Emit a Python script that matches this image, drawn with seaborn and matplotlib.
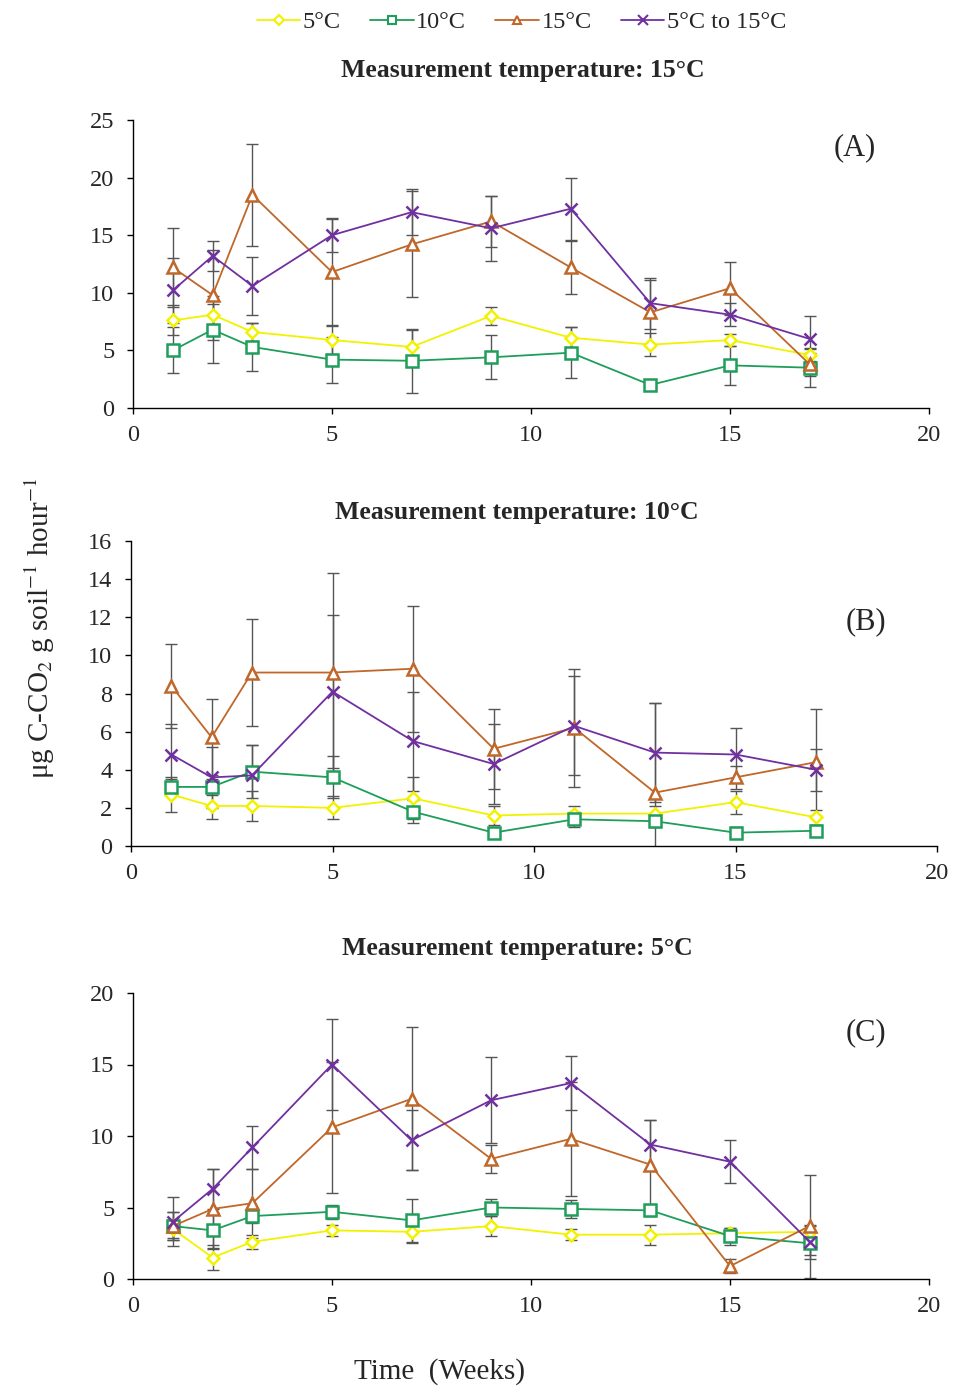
import numpy as np
import pandas as pd
import matplotlib
matplotlib.use("Agg")
import matplotlib.pyplot as plt
import seaborn as sns
from matplotlib.lines import Line2D

weeks = [1, 2, 3, 5, 7, 9, 11, 13, 15, 17]
series = ["5°C", "10°C", "15°C", "5°C to 15°C"]

# Panel A: measurement temperature 15°C
a_5 = [7.6, 8.1, 6.6, 5.9, 5.3, 8.0, 6.1, 5.5, 5.9, 4.6]
a_10 = [5.0, 6.8, 5.3, 4.2, 4.1, 4.4, 4.8, 2.0, 3.7, 3.5]
a_15 = [12.2, 9.8, 18.5, 11.8, 14.2, 16.2, 12.2, 8.3, 10.4, 3.8]
a_mix = [10.2, 13.2, 10.6, 15.0, 17.0, 15.6, 17.3, 9.1, 8.1, 6.0]
a_5_err = [1.3, 0.9, 0.8, 1.2, 1.5, 0.8, 0.9, 1.0, 0.5, 0.5]
a_10_err = [2.0, 2.9, 2.1, 2.0, 2.8, 1.9, 2.2, 0.4, 1.7, 1.7]
a_15_err = [3.4, 3.9, 4.4, 4.6, 4.6, 2.2, 2.3, 2.8, 2.3, 1.0]
a_mix_err = [2.8, 1.3, 2.5, 1.5, 2.0, 2.8, 2.7, 2.2, 1.0, 2.0]

# Panel B: measurement temperature 10°C
b_5 = [2.7, 2.1, 2.1, 2.0, 2.5, 1.6, 1.7, 1.7, 2.3, 1.5]
b_10 = [3.1, 3.1, 3.9, 3.6, 1.8, 0.7, 1.4, 1.3, 0.7, 0.8]
b_15 = [8.4, 5.7, 9.1, 9.1, 9.3, 5.1, 6.2, 2.8, 3.6, 4.4]
b_mix = [4.8, 3.6, 3.7, 8.1, 5.5, 4.3, 6.3, 4.9, 4.8, 4.0]
b_5_err = [0.9, 0.7, 0.8, 0.6, 1.1, 0.5, 0.4, 0.4, 0.6, 0.4]
b_10_err = [0.4, 0.4, 1.4, 1.1, 0.6, 0.3, 0.4, 0.3, 0.3, 0.3]
b_15_err = [2.2, 2.0, 2.8, 5.2, 3.3, 2.1, 3.1, 4.7, 0.6, 2.8]
b_mix_err = [1.6, 1.6, 1.6, 4.0, 2.6, 2.1, 2.6, 2.6, 1.4, 1.1]

# Panel C: measurement temperature 5°C
c_5 = [3.5, 1.5, 2.6, 3.4, 3.3, 3.7, 3.1, 3.1, 3.2, 3.3]
c_10 = [3.7, 3.4, 4.4, 4.7, 4.1, 5.0, 4.9, 4.8, 3.0, 2.5]
c_15 = [3.7, 4.9, 5.3, 10.6, 12.6, 8.4, 9.8, 8.0, 0.9, 3.7]
c_mix = [4.0, 6.3, 9.2, 15.0, 9.7, 12.5, 13.7, 9.4, 8.2, 2.6]
c_5_err = [0.6, 0.9, 0.5, 0.4, 0.8, 0.7, 0.4, 0.7, 0.4, 0.4]
c_10_err = [1.0, 1.2, 0.5, 0.5, 1.5, 0.6, 0.6, 0.4, 0.6, 0.8]
c_15_err = [1.0, 2.8, 2.4, 4.6, 5.0, 1.0, 4.0, 3.1, 0.5, 3.6]
c_mix_err = [1.7, 1.4, 1.5, 3.2, 2.1, 3.0, 1.9, 1.7, 1.5, 1.2]

panels = [
    ("Measurement temperature: 15°C", "(A)", [a_5, a_10, a_15, a_mix],
     [a_5_err, a_10_err, a_15_err, a_mix_err], 25, 5),
    ("Measurement temperature: 10°C", "(B)", [b_5, b_10, b_15, b_mix],
     [b_5_err, b_10_err, b_15_err, b_mix_err], 16, 2),
    ("Measurement temperature: 5°C", "(C)", [c_5, c_10, c_15, c_mix],
     [c_5_err, c_10_err, c_15_err, c_mix_err], 20, 5),
]

colors = ["#F2F200", "#1E9E5A", "#C0672A", "#7030A0"]
markers = ["D", "s", "^", "x"]
msizes = [6, 8, 8, 9]

sns.set_style("white")
plt.rcParams["font.family"] = ["Liberation Serif", "DejaVu Serif"]
plt.rcParams["mathtext.fontset"] = "stix"

fig = plt.figure(figsize=(9.55, 13.94), dpi=100)
W, H = 955, 1394
rects = [
    [133 / W, 1 - 408 / H, 796 / W, 288 / H],
    [131 / W, 1 - 846 / H, 806 / W, 305 / H],
    [133 / W, 1 - 1279 / H, 796 / W, 286 / H],
]
title_pos = [(523, 70), (517, 513), (517, 949)]
tag_pos = [(855, 148), (866, 622), (866, 1033)]

for rect, tpos, gpos, (title, tag, vals, errs, ymax, ystep) in zip(
        rects, title_pos, tag_pos, panels):
    ax = fig.add_axes(rect)
    for name, v, e, c, m, ms in zip(series, vals, errs, colors, markers, msizes):
        ax.errorbar(weeks, v, yerr=e, fmt="none", ecolor="#555555",
                    elinewidth=1.0, capsize=4, capthick=1.0, zorder=2)
        df = pd.DataFrame({"week": weeks, "value": v})
        mfc = c if m == "x" else "white"
        sns.lineplot(data=df, x="week", y="value", ax=ax, color=c,
                     marker=m, markersize=ms, markerfacecolor=mfc,
                     markeredgecolor=c, markeredgewidth=1.8,
                     linewidth=1.3, zorder=3, label=name, legend=False)
    ax.set_xlim(0, 20)
    ax.set_ylim(0, ymax)
    ax.set_xticks([0, 5, 10, 15, 20])
    ax.set_yticks(np.arange(0, ymax + 0.1, ystep))
    ax.set_xlabel("")
    ax.set_ylabel("")
    for s in ["top", "right"]:
        ax.spines[s].set_visible(False)
    for s in ["left", "bottom"]:
        ax.spines[s].set_color("#000000")
        ax.spines[s].set_linewidth(1.0)
    ax.tick_params(axis="both", which="both", direction="out", length=4.5,
                   width=1, color="#000000", labelsize=17.5, left=True, bottom=True)
    ax.tick_params(axis="x", pad=8)
    ax.tick_params(axis="y", pad=9)
    fig.text(tpos[0] / W, 1 - tpos[1] / H, title, fontsize=18.5,
             fontweight="bold", ha="center", va="center")
    fig.text(gpos[0] / W, 1 - gpos[1] / H, tag, fontsize=22,
             ha="center", va="center")

fig.text(0.042, 1 - 628 / H, "μg C-CO$_2$ g soil$^{-1}$ hour$^{-1}$",
         rotation=90, fontsize=21, ha="center", va="center")
fig.text(0.46, 1 - 1372 / H, "Time  (Weeks)", fontsize=21, ha="center", va="center")

handles = [Line2D([0], [0], color=c, marker=m, markersize=ms * 0.8,
                  markerfacecolor=(c if m == "x" else "white"),
                  markeredgecolor=c, markeredgewidth=1.5, linewidth=1.3)
           for c, m, ms in zip(colors, markers, msizes)]
fig.legend(handles, series, loc="center", bbox_to_anchor=(0.546, 1 - 22 / H),
           ncol=4, frameon=False, fontsize=17.5, handlelength=1.8,
           handletextpad=0.1, columnspacing=1.2)

fig.savefig("out.png", dpi=100)
